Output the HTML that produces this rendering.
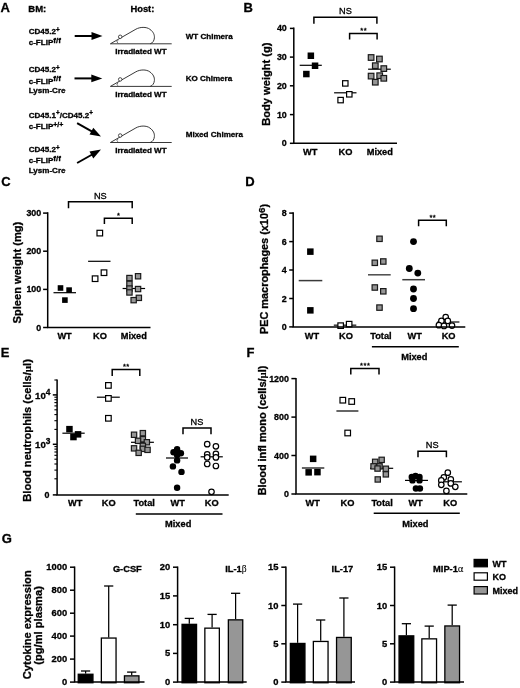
<!DOCTYPE html>
<html lang="en">
<head>
<meta charset="utf-8">
<title>Figure</title>
<style>
html,body{margin:0;padding:0;background:#fff;}
body{width:520px;height:688px;overflow:hidden;}
svg{display:block;font-family:'Liberation Sans', sans-serif;fill:#000;}
svg text{stroke:#000;stroke-width:0.3px;}
</style>
</head>
<body>
<svg width="520" height="688" viewBox="0 0 520 688">
<rect x="0" y="0" width="520" height="688" fill="#fff"/>
<text x="0.5" y="12.3" font-size="13" text-anchor="start" font-weight="bold" >A</text>
<text x="243.5" y="11.9" font-size="13" text-anchor="start" font-weight="bold" >B</text>
<text x="1.2" y="186.4" font-size="13" text-anchor="start" font-weight="bold" >C</text>
<text x="245.3" y="186.4" font-size="13" text-anchor="start" font-weight="bold" >D</text>
<text x="0.8" y="356.8" font-size="13" text-anchor="start" font-weight="bold" >E</text>
<text x="246.6" y="357.2" font-size="13" text-anchor="start" font-weight="bold" >F</text>
<text x="1.8" y="543.3" font-size="13" text-anchor="start" font-weight="bold" >G</text>
<text x="28.3" y="12.1" font-size="9.5" text-anchor="start" font-weight="bold" >BM:</text>
<text x="130.4" y="12.0" font-size="9.4" text-anchor="start" font-weight="bold" >Host:</text>
<text x="28.7" y="34.0" font-size="8.05" text-anchor="start" font-weight="bold" >CD45.2<tspan dy="-2.1" font-size="6.3">+</tspan></text>
<text x="28.7" y="45.0" font-size="8.05" text-anchor="start" font-weight="bold" >c-FLIP<tspan dy="-2.1" font-size="8.05">f/f</tspan></text>
<text x="28.7" y="72.3" font-size="8.05" text-anchor="start" font-weight="bold" >CD45.2<tspan dy="-2.1" font-size="6.3">+</tspan></text>
<text x="28.7" y="83.5" font-size="8.05" text-anchor="start" font-weight="bold" >c-FLIP<tspan dy="-2.1" font-size="8.05">f/f</tspan></text>
<text x="28.7" y="93.4" font-size="8.05" text-anchor="start" font-weight="bold" >Lysm-Cre</text>
<text x="28.7" y="117.5" font-size="8.05" text-anchor="start" font-weight="bold" >CD45.1<tspan dy="-2.1" font-size="6.3">+</tspan><tspan dy="2.1" font-size="8.05">/CD45.2</tspan><tspan dy="-2.1" font-size="6.3">+</tspan></text>
<text x="28.7" y="128.9" font-size="8.05" text-anchor="start" font-weight="bold" >c-FLIP<tspan dy="-2.1" font-size="7">+/+</tspan></text>
<text x="28.7" y="151.7" font-size="8.05" text-anchor="start" font-weight="bold" >CD45.2<tspan dy="-2.1" font-size="6.3">+</tspan></text>
<text x="28.7" y="163.0" font-size="8.05" text-anchor="start" font-weight="bold" >c-FLIP<tspan dy="-2.1" font-size="8.05">f/f</tspan></text>
<text x="28.7" y="172.8" font-size="8.05" text-anchor="start" font-weight="bold" >Lysm-Cre</text>
<line x1="74.7" y1="36.0" x2="93.5" y2="36.0" stroke="#000" stroke-width="2"/>
<polygon points="102.5,36.0 91.5,39.9 91.5,32.1" fill="#000"/>
<line x1="74.5" y1="78.4" x2="93.3" y2="78.4" stroke="#000" stroke-width="2"/>
<polygon points="102.3,78.4 91.3,82.3 91.3,74.5" fill="#000"/>
<line x1="77.1" y1="123.2" x2="93.1" y2="132.1" stroke="#000" stroke-width="2"/>
<polygon points="101.0,136.5 89.5,134.6 93.3,127.7" fill="#000"/>
<line x1="77.1" y1="163.0" x2="93.1" y2="154.0" stroke="#000" stroke-width="2"/>
<polygon points="101.0,149.6 93.3,158.4 89.5,151.6" fill="#000"/>
<line x1="110.4" y1="43.8" x2="171.7" y2="43.8" stroke="#222" stroke-width="0.9"/>
<path d="M110.4,43.8 L135.9,29.2 C139.9,26.9 146.4,26.6 149.9,29.3 C153.4,31.8 154.6,34.8 154.4,37.8 C154.2,40.8 152.6,43.0 150.2,43.8" stroke="#222" stroke-width="0.9" fill="none" />
<circle cx="120.2" cy="36.8" r="1.75" fill="#fff" stroke="#222" stroke-width="0.8"/>
<path d="M118.0,40.2 L116.8,41.9 L118.3,43.3" stroke="#333" stroke-width="0.7" fill="none" />
<line x1="110.4" y1="86.4" x2="171.7" y2="86.4" stroke="#222" stroke-width="0.9"/>
<path d="M110.4,86.4 L135.9,71.8 C139.9,69.5 146.4,69.2 149.9,71.9 C153.4,74.4 154.6,77.4 154.4,80.4 C154.2,83.4 152.6,85.6 150.2,86.4" stroke="#222" stroke-width="0.9" fill="none" />
<circle cx="120.2" cy="79.4" r="1.75" fill="#fff" stroke="#222" stroke-width="0.8"/>
<path d="M118.0,82.8 L116.8,84.5 L118.3,85.9" stroke="#333" stroke-width="0.7" fill="none" />
<line x1="110.4" y1="142.5" x2="171.7" y2="142.5" stroke="#222" stroke-width="0.9"/>
<path d="M110.4,142.5 L135.9,127.9 C139.9,125.6 146.4,125.3 149.9,128.0 C153.4,130.5 154.6,133.5 154.4,136.5 C154.2,139.5 152.6,141.7 150.2,142.5" stroke="#222" stroke-width="0.9" fill="none" />
<circle cx="120.2" cy="135.5" r="1.75" fill="#fff" stroke="#222" stroke-width="0.8"/>
<path d="M118.0,138.9 L116.8,140.6 L118.3,142.0" stroke="#333" stroke-width="0.7" fill="none" />
<text x="140.9" y="54.2" font-size="8.05" text-anchor="middle" font-weight="bold" >Irradiated WT</text>
<text x="140.9" y="96.9" font-size="8.05" text-anchor="middle" font-weight="bold" >Irradiated WT</text>
<text x="140.9" y="152.9" font-size="8.05" text-anchor="middle" font-weight="bold" >Irradiated WT</text>
<text x="185.7" y="38.7" font-size="8.05" text-anchor="start" font-weight="bold" >WT Chimera</text>
<text x="185.7" y="81.4" font-size="8.05" text-anchor="start" font-weight="bold" >KO Chimera</text>
<text x="185.7" y="137.2" font-size="8.05" text-anchor="start" font-weight="bold" >Mixed Chimera</text>
<line x1="289.9" y1="28.4" x2="293.8" y2="28.4" stroke="#000" stroke-width="1.5"/>
<text x="286.8" y="31.4" font-size="8.9" text-anchor="end" font-weight="bold" >40</text>
<line x1="289.9" y1="57.1" x2="293.8" y2="57.1" stroke="#000" stroke-width="1.5"/>
<text x="286.8" y="60.1" font-size="8.9" text-anchor="end" font-weight="bold" >30</text>
<line x1="289.9" y1="85.8" x2="293.8" y2="85.8" stroke="#000" stroke-width="1.5"/>
<text x="286.8" y="88.8" font-size="8.9" text-anchor="end" font-weight="bold" >20</text>
<line x1="289.9" y1="114.6" x2="293.8" y2="114.6" stroke="#000" stroke-width="1.5"/>
<text x="286.8" y="117.6" font-size="8.9" text-anchor="end" font-weight="bold" >10</text>
<line x1="289.9" y1="143.3" x2="293.8" y2="143.3" stroke="#000" stroke-width="1.5"/>
<text x="286.8" y="146.3" font-size="8.9" text-anchor="end" font-weight="bold" >0</text>
<text transform="translate(269.5,84.1) rotate(-90)" font-size="11.1" text-anchor="middle" font-weight="bold">Body weight (g)</text>
<text x="310.3" y="154.9" font-size="9.25" text-anchor="middle" font-weight="bold" >WT</text>
<text x="345.5" y="154.9" font-size="9.25" text-anchor="middle" font-weight="bold" >KO</text>
<text x="379.8" y="154.9" font-size="9.25" text-anchor="middle" font-weight="bold" >Mixed</text>
<path d="M313.9,23.8 V17.3 H376.9 V23.8" stroke="#000" stroke-width="1.5" fill="none" />
<text x="345.4" y="14.3" font-size="9.2" text-anchor="middle" font-weight="normal" stroke-width="0.1">NS</text>
<path d="M349.6,39.6 V33.4 H377.1 V39.6" stroke="#000" stroke-width="1.5" fill="none" />
<text x="363.7" y="33.1" font-size="7.5" text-anchor="middle" font-weight="normal" stroke-width="0.2" letter-spacing="0.5">**</text>
<line x1="299.7" y1="65.3" x2="321.8" y2="65.3" stroke="#000" stroke-width="1.2"/>
<rect x="307.6" y="52.5" width="6.5" height="6.5" fill="#000" stroke="#000" stroke-width="0"/>
<rect x="311.8" y="62.5" width="6.5" height="6.5" fill="#000" stroke="#000" stroke-width="0"/>
<rect x="303.1" y="70.8" width="6.5" height="6.5" fill="#000" stroke="#000" stroke-width="0"/>
<line x1="334.1" y1="92.8" x2="356.5" y2="92.8" stroke="#000" stroke-width="1.2"/>
<rect x="342.6" y="80.7" width="5.3999999999999995" height="5.3999999999999995" fill="#fff" stroke="#000" stroke-width="1.2"/>
<rect x="346.6" y="91.6" width="5.3999999999999995" height="5.3999999999999995" fill="#fff" stroke="#000" stroke-width="1.2"/>
<rect x="337.9" y="97.4" width="5.3999999999999995" height="5.3999999999999995" fill="#fff" stroke="#000" stroke-width="1.2"/>
<line x1="368.1" y1="69.2" x2="390.8" y2="69.2" stroke="#000" stroke-width="1.2"/>
<rect x="368.3" y="54.7" width="5.6" height="5.6" fill="#969696" stroke="#1a1a1a" stroke-width="1.2"/>
<rect x="376.6" y="56.2" width="5.6" height="5.6" fill="#969696" stroke="#1a1a1a" stroke-width="1.2"/>
<rect x="372.5" y="62.9" width="5.6" height="5.6" fill="#969696" stroke="#1a1a1a" stroke-width="1.2"/>
<rect x="381.0" y="65.8" width="5.6" height="5.6" fill="#969696" stroke="#1a1a1a" stroke-width="1.2"/>
<rect x="368.3" y="73.3" width="5.6" height="5.6" fill="#969696" stroke="#1a1a1a" stroke-width="1.2"/>
<rect x="376.9" y="72.9" width="5.6" height="5.6" fill="#969696" stroke="#1a1a1a" stroke-width="1.2"/>
<rect x="381.0" y="75.5" width="5.6" height="5.6" fill="#969696" stroke="#1a1a1a" stroke-width="1.2"/>
<rect x="372.5" y="79.4" width="5.6" height="5.6" fill="#969696" stroke="#1a1a1a" stroke-width="1.2"/>
<line x1="43.1" y1="213.1" x2="47.7" y2="213.1" stroke="#000" stroke-width="1.5"/>
<text x="41.2" y="216.1" font-size="8.9" text-anchor="end" font-weight="bold" >300</text>
<line x1="43.1" y1="251.2" x2="47.7" y2="251.2" stroke="#000" stroke-width="1.5"/>
<text x="41.2" y="254.2" font-size="8.9" text-anchor="end" font-weight="bold" >200</text>
<line x1="43.1" y1="289.4" x2="47.7" y2="289.4" stroke="#000" stroke-width="1.5"/>
<text x="41.2" y="292.4" font-size="8.9" text-anchor="end" font-weight="bold" >100</text>
<line x1="43.1" y1="327.5" x2="47.7" y2="327.5" stroke="#000" stroke-width="1.5"/>
<text x="41.2" y="330.5" font-size="8.9" text-anchor="end" font-weight="bold" >0</text>
<text transform="translate(20.8,272.6) rotate(-90)" font-size="11.1" text-anchor="middle" font-weight="bold">Spleen weight (mg)</text>
<text x="64.6" y="338.7" font-size="9.25" text-anchor="middle" font-weight="bold" >WT</text>
<text x="100.0" y="338.7" font-size="9.25" text-anchor="middle" font-weight="bold" >KO</text>
<text x="133.8" y="338.7" font-size="9.25" text-anchor="middle" font-weight="bold" >Mixed</text>
<path d="M68.5,208.3 V201.8 H132.2 V208.3" stroke="#000" stroke-width="1.5" fill="none" />
<text x="100.3" y="198.5" font-size="9.2" text-anchor="middle" font-weight="normal" stroke-width="0.1">NS</text>
<path d="M104.4,224.1 V218.3 H132.2 V224.1" stroke="#000" stroke-width="1.5" fill="none" />
<text x="118.6" y="218.0" font-size="7.5" text-anchor="middle" font-weight="normal" stroke-width="0.2" letter-spacing="0.5">*</text>
<line x1="53.5" y1="292.7" x2="76.0" y2="292.7" stroke="#000" stroke-width="1.2"/>
<rect x="57.7" y="285.2" width="5.6000000000000005" height="5.6000000000000005" fill="#000" stroke="#000" stroke-width="0"/>
<rect x="66.3" y="287.3" width="5.6000000000000005" height="5.6000000000000005" fill="#000" stroke="#000" stroke-width="0"/>
<rect x="62.1" y="297.3" width="5.6000000000000005" height="5.6000000000000005" fill="#000" stroke="#000" stroke-width="0"/>
<line x1="88.1" y1="261.3" x2="110.5" y2="261.3" stroke="#000" stroke-width="1.2"/>
<rect x="97.0" y="230.3" width="5.6" height="5.6" fill="#fff" stroke="#000" stroke-width="1.2"/>
<rect x="101.2" y="269.9" width="5.6" height="5.6" fill="#fff" stroke="#000" stroke-width="1.2"/>
<rect x="92.3" y="275.9" width="5.6" height="5.6" fill="#fff" stroke="#000" stroke-width="1.2"/>
<line x1="122.6" y1="288.5" x2="145.1" y2="288.5" stroke="#000" stroke-width="1.2"/>
<rect x="126.8" y="275.4" width="5.3" height="5.3" fill="#969696" stroke="#1a1a1a" stroke-width="1.2"/>
<rect x="135.4" y="273.6" width="5.3" height="5.3" fill="#969696" stroke="#1a1a1a" stroke-width="1.2"/>
<rect x="126.8" y="281.2" width="5.3" height="5.3" fill="#969696" stroke="#1a1a1a" stroke-width="1.2"/>
<rect x="126.8" y="285.9" width="5.3" height="5.3" fill="#969696" stroke="#1a1a1a" stroke-width="1.2"/>
<rect x="135.4" y="286.4" width="5.3" height="5.3" fill="#969696" stroke="#1a1a1a" stroke-width="1.2"/>
<rect x="126.8" y="289.8" width="5.3" height="5.3" fill="#969696" stroke="#1a1a1a" stroke-width="1.2"/>
<rect x="136.2" y="295.2" width="5.3" height="5.3" fill="#969696" stroke="#1a1a1a" stroke-width="1.2"/>
<rect x="131.0" y="297.5" width="5.3" height="5.3" fill="#969696" stroke="#1a1a1a" stroke-width="1.2"/>
<line x1="289.2" y1="213.1" x2="293.2" y2="213.1" stroke="#000" stroke-width="1.5"/>
<text x="286.7" y="216.1" font-size="8.9" text-anchor="end" font-weight="bold" >8</text>
<line x1="289.2" y1="241.6" x2="293.2" y2="241.6" stroke="#000" stroke-width="1.5"/>
<text x="286.7" y="244.6" font-size="8.9" text-anchor="end" font-weight="bold" >6</text>
<line x1="289.2" y1="270.0" x2="293.2" y2="270.0" stroke="#000" stroke-width="1.5"/>
<text x="286.7" y="273.0" font-size="8.9" text-anchor="end" font-weight="bold" >4</text>
<line x1="289.2" y1="298.5" x2="293.2" y2="298.5" stroke="#000" stroke-width="1.5"/>
<text x="286.7" y="301.5" font-size="8.9" text-anchor="end" font-weight="bold" >2</text>
<line x1="289.2" y1="326.9" x2="293.2" y2="326.9" stroke="#000" stroke-width="1.5"/>
<text x="286.7" y="329.9" font-size="8.9" text-anchor="end" font-weight="bold" >0</text>
<text transform="translate(268.3,269.0) rotate(-90)" font-size="10.9" text-anchor="middle" font-weight="bold">PEC macrophages (x10<tspan dy="-3.8" font-size="9.8">6</tspan><tspan dy="3.8">)</tspan></text>
<text x="311.9" y="339.1" font-size="9.25" text-anchor="middle" font-weight="bold" >WT</text>
<text x="346.0" y="339.1" font-size="9.25" text-anchor="middle" font-weight="bold" >KO</text>
<text x="380.9" y="339.1" font-size="9.25" text-anchor="middle" font-weight="bold" >Total</text>
<text x="414.7" y="339.1" font-size="9.25" text-anchor="middle" font-weight="bold" >WT</text>
<text x="448.6" y="339.1" font-size="9.25" text-anchor="middle" font-weight="bold" >KO</text>
<line x1="371.9" y1="346.7" x2="458.8" y2="346.7" stroke="#000" stroke-width="1.5"/>
<text x="414.3" y="359.6" font-size="9.25" text-anchor="middle" font-weight="bold" >Mixed</text>
<path d="M418.6,226.2 V220.2 H446.3 V226.2" stroke="#000" stroke-width="1.5" fill="none" />
<text x="432.8" y="219.9" font-size="7.5" text-anchor="middle" font-weight="normal" stroke-width="0.2" letter-spacing="0.5">**</text>
<line x1="298.7" y1="280.6" x2="322.3" y2="280.6" stroke="#3a3a3a" stroke-width="1.5"/>
<rect x="307.1" y="248.4" width="6.5" height="6.5" fill="#000" stroke="#000" stroke-width="0"/>
<rect x="307.1" y="307.1" width="6.5" height="6.5" fill="#000" stroke="#000" stroke-width="0"/>
<line x1="333.8" y1="325.2" x2="356.3" y2="325.2" stroke="#3a3a3a" stroke-width="1.5"/>
<rect x="337.9" y="322.9" width="5.5" height="5.5" fill="#fff" stroke="#000" stroke-width="1.2"/>
<rect x="346.4" y="321.4" width="5.5" height="5.5" fill="#fff" stroke="#000" stroke-width="1.2"/>
<line x1="368.0" y1="274.8" x2="390.7" y2="274.8" stroke="#4a4a4a" stroke-width="1.5"/>
<rect x="376.8" y="236.1" width="5.3999999999999995" height="5.3999999999999995" fill="#969696" stroke="#1a1a1a" stroke-width="1.2"/>
<rect x="372.1" y="260.1" width="5.3999999999999995" height="5.3999999999999995" fill="#969696" stroke="#1a1a1a" stroke-width="1.2"/>
<rect x="380.6" y="258.8" width="5.3999999999999995" height="5.3999999999999995" fill="#969696" stroke="#1a1a1a" stroke-width="1.2"/>
<rect x="372.1" y="284.8" width="5.3999999999999995" height="5.3999999999999995" fill="#969696" stroke="#1a1a1a" stroke-width="1.2"/>
<rect x="380.6" y="288.6" width="5.3999999999999995" height="5.3999999999999995" fill="#969696" stroke="#1a1a1a" stroke-width="1.2"/>
<rect x="376.8" y="304.9" width="5.3999999999999995" height="5.3999999999999995" fill="#969696" stroke="#1a1a1a" stroke-width="1.2"/>
<line x1="402.3" y1="279.7" x2="425.0" y2="279.7" stroke="#3a3a3a" stroke-width="1.5"/>
<circle cx="413.5" cy="241.6" r="3.42" fill="#000" stroke="#000" stroke-width="0"/>
<circle cx="409.3" cy="268.5" r="3.42" fill="#000" stroke="#000" stroke-width="0"/>
<circle cx="417.8" cy="273.1" r="3.42" fill="#000" stroke="#000" stroke-width="0"/>
<circle cx="413.5" cy="289.0" r="3.42" fill="#000" stroke="#000" stroke-width="0"/>
<circle cx="413.5" cy="298.5" r="3.42" fill="#000" stroke="#000" stroke-width="0"/>
<circle cx="413.5" cy="308.7" r="3.42" fill="#000" stroke="#000" stroke-width="0"/>
<line x1="437.2" y1="322.0" x2="459.4" y2="322.0" stroke="#3a3a3a" stroke-width="1.5"/>
<circle cx="445.7" cy="317.1" r="2.75" fill="#fff" stroke="#000" stroke-width="1.2"/>
<circle cx="441.4" cy="320.9" r="2.75" fill="#fff" stroke="#000" stroke-width="1.2"/>
<circle cx="447.8" cy="320.9" r="2.75" fill="#fff" stroke="#000" stroke-width="1.2"/>
<circle cx="438.9" cy="325.2" r="2.75" fill="#fff" stroke="#000" stroke-width="1.2"/>
<circle cx="444.0" cy="326.0" r="2.75" fill="#fff" stroke="#000" stroke-width="1.2"/>
<circle cx="452.0" cy="325.6" r="2.75" fill="#fff" stroke="#000" stroke-width="1.2"/>
<line x1="52.8" y1="394.9" x2="57.1" y2="394.9" stroke="#000" stroke-width="1.5"/>
<line x1="52.8" y1="444.3" x2="57.1" y2="444.3" stroke="#000" stroke-width="1.5"/>
<line x1="52.8" y1="494.9" x2="57.1" y2="494.9" stroke="#000" stroke-width="1.5"/>
<text x="49.4" y="497.9" font-size="8.9" text-anchor="end" font-weight="bold" >0</text>
<line x1="54.4" y1="429.4" x2="57.1" y2="429.4" stroke="#000" stroke-width="1.1"/>
<line x1="54.4" y1="478.8" x2="57.1" y2="478.8" stroke="#000" stroke-width="1.1"/>
<line x1="54.4" y1="420.7" x2="57.1" y2="420.7" stroke="#000" stroke-width="1.1"/>
<line x1="54.4" y1="470.1" x2="57.1" y2="470.1" stroke="#000" stroke-width="1.1"/>
<line x1="54.4" y1="414.6" x2="57.1" y2="414.6" stroke="#000" stroke-width="1.1"/>
<line x1="54.4" y1="464.0" x2="57.1" y2="464.0" stroke="#000" stroke-width="1.1"/>
<line x1="54.4" y1="409.8" x2="57.1" y2="409.8" stroke="#000" stroke-width="1.1"/>
<line x1="54.4" y1="459.2" x2="57.1" y2="459.2" stroke="#000" stroke-width="1.1"/>
<line x1="54.4" y1="405.9" x2="57.1" y2="405.9" stroke="#000" stroke-width="1.1"/>
<line x1="54.4" y1="455.3" x2="57.1" y2="455.3" stroke="#000" stroke-width="1.1"/>
<line x1="54.4" y1="402.6" x2="57.1" y2="402.6" stroke="#000" stroke-width="1.1"/>
<line x1="54.4" y1="452.0" x2="57.1" y2="452.0" stroke="#000" stroke-width="1.1"/>
<line x1="54.4" y1="399.7" x2="57.1" y2="399.7" stroke="#000" stroke-width="1.1"/>
<line x1="54.4" y1="449.1" x2="57.1" y2="449.1" stroke="#000" stroke-width="1.1"/>
<line x1="54.4" y1="397.2" x2="57.1" y2="397.2" stroke="#000" stroke-width="1.1"/>
<line x1="54.4" y1="446.6" x2="57.1" y2="446.6" stroke="#000" stroke-width="1.1"/>
<line x1="54.4" y1="380.0" x2="57.1" y2="380.0" stroke="#000" stroke-width="1.1"/>
<text x="50.4" y="398.9" font-size="9.6" text-anchor="end" font-weight="bold" >10<tspan dy="-4.2" font-size="8.4">4</tspan></text>
<text x="50.4" y="448.3" font-size="9.6" text-anchor="end" font-weight="bold" >10<tspan dy="-4.2" font-size="8.4">3</tspan></text>
<text transform="translate(30.8,430.4) rotate(-90)" font-size="11.1" text-anchor="middle" font-weight="bold">Blood neutrophils (cells/<tspan font-family="'Liberation Serif', serif" font-weight="bold" stroke-width="0.1">μ</tspan>l)</text>
<text x="75.3" y="506.2" font-size="9.25" text-anchor="middle" font-weight="bold" >WT</text>
<text x="108.8" y="506.2" font-size="9.25" text-anchor="middle" font-weight="bold" >KO</text>
<text x="144.2" y="506.2" font-size="9.25" text-anchor="middle" font-weight="bold" >Total</text>
<text x="177.8" y="506.2" font-size="9.25" text-anchor="middle" font-weight="bold" >WT</text>
<text x="211.7" y="506.2" font-size="9.25" text-anchor="middle" font-weight="bold" >KO</text>
<line x1="135.8" y1="513.9" x2="222.5" y2="513.9" stroke="#000" stroke-width="1.5"/>
<text x="178.2" y="527.2" font-size="9.25" text-anchor="middle" font-weight="bold" >Mixed</text>
<path d="M112.2,376.0 V369.6 H139.8 V376.0" stroke="#000" stroke-width="1.5" fill="none" />
<text x="126.3" y="369.3" font-size="7.5" text-anchor="middle" font-weight="normal" stroke-width="0.2" letter-spacing="0.5">**</text>
<path d="M183.0,434.3 V428.1 H211.0 V434.3" stroke="#000" stroke-width="1.5" fill="none" />
<text x="197.0" y="424.5" font-size="9.2" text-anchor="middle" font-weight="normal" stroke-width="0.1">NS</text>
<line x1="62.4" y1="433.2" x2="84.7" y2="433.2" stroke="#000" stroke-width="1.2"/>
<rect x="66.2" y="425.9" width="6.5" height="6.5" fill="#000" stroke="#000" stroke-width="0"/>
<rect x="74.8" y="431.1" width="6.5" height="6.5" fill="#000" stroke="#000" stroke-width="0"/>
<rect x="70.2" y="433.8" width="6.5" height="6.5" fill="#000" stroke="#000" stroke-width="0"/>
<line x1="96.9" y1="397.2" x2="119.8" y2="397.2" stroke="#000" stroke-width="1.2"/>
<rect x="105.6" y="382.6" width="5.6" height="5.6" fill="#fff" stroke="#000" stroke-width="1.2"/>
<rect x="105.6" y="395.6" width="5.6" height="5.6" fill="#fff" stroke="#000" stroke-width="1.2"/>
<rect x="105.6" y="415.5" width="5.6" height="5.6" fill="#fff" stroke="#000" stroke-width="1.2"/>
<line x1="131.0" y1="442.3" x2="153.9" y2="442.3" stroke="#000" stroke-width="1.2"/>
<rect x="131.4" y="432.1" width="5.3" height="5.3" fill="#969696" stroke="#1a1a1a" stroke-width="1.2"/>
<rect x="140.2" y="430.5" width="5.3" height="5.3" fill="#969696" stroke="#1a1a1a" stroke-width="1.2"/>
<rect x="140.2" y="436.6" width="5.3" height="5.3" fill="#969696" stroke="#1a1a1a" stroke-width="1.2"/>
<rect x="135.4" y="438.2" width="5.3" height="5.3" fill="#969696" stroke="#1a1a1a" stroke-width="1.2"/>
<rect x="144.2" y="439.6" width="5.3" height="5.3" fill="#969696" stroke="#1a1a1a" stroke-width="1.2"/>
<rect x="140.2" y="443.2" width="5.3" height="5.3" fill="#969696" stroke="#1a1a1a" stroke-width="1.2"/>
<rect x="131.4" y="445.7" width="5.3" height="5.3" fill="#969696" stroke="#1a1a1a" stroke-width="1.2"/>
<rect x="140.2" y="446.2" width="5.3" height="5.3" fill="#969696" stroke="#1a1a1a" stroke-width="1.2"/>
<rect x="144.9" y="447.2" width="5.3" height="5.3" fill="#969696" stroke="#1a1a1a" stroke-width="1.2"/>
<rect x="136.0" y="450.2" width="5.3" height="5.3" fill="#969696" stroke="#1a1a1a" stroke-width="1.2"/>
<line x1="166.0" y1="458.0" x2="188.0" y2="458.0" stroke="#000" stroke-width="1.2"/>
<circle cx="177.1" cy="449.3" r="3.22" fill="#000" stroke="#000" stroke-width="0"/>
<circle cx="173.5" cy="452.3" r="3.22" fill="#000" stroke="#000" stroke-width="0"/>
<circle cx="180.9" cy="453.3" r="3.22" fill="#000" stroke="#000" stroke-width="0"/>
<circle cx="177.1" cy="455.0" r="3.22" fill="#000" stroke="#000" stroke-width="0"/>
<circle cx="177.1" cy="460.4" r="3.22" fill="#000" stroke="#000" stroke-width="0"/>
<circle cx="172.9" cy="466.4" r="3.22" fill="#000" stroke="#000" stroke-width="0"/>
<circle cx="181.5" cy="471.9" r="3.22" fill="#000" stroke="#000" stroke-width="0"/>
<circle cx="177.1" cy="487.8" r="3.22" fill="#000" stroke="#000" stroke-width="0"/>
<line x1="200.6" y1="456.8" x2="222.8" y2="456.8" stroke="#000" stroke-width="1.2"/>
<circle cx="207.2" cy="444.2" r="2.75" fill="#fff" stroke="#000" stroke-width="1.2"/>
<circle cx="215.9" cy="446.3" r="2.75" fill="#fff" stroke="#000" stroke-width="1.2"/>
<circle cx="207.2" cy="454.3" r="2.75" fill="#fff" stroke="#000" stroke-width="1.2"/>
<circle cx="215.9" cy="453.9" r="2.75" fill="#fff" stroke="#000" stroke-width="1.2"/>
<circle cx="207.2" cy="457.4" r="2.75" fill="#fff" stroke="#000" stroke-width="1.2"/>
<circle cx="215.9" cy="457.4" r="2.75" fill="#fff" stroke="#000" stroke-width="1.2"/>
<circle cx="207.2" cy="464.0" r="2.75" fill="#fff" stroke="#000" stroke-width="1.2"/>
<circle cx="215.9" cy="466.0" r="2.75" fill="#fff" stroke="#000" stroke-width="1.2"/>
<circle cx="211.5" cy="491.8" r="2.75" fill="#fff" stroke="#000" stroke-width="1.2"/>
<line x1="291.4" y1="378.6" x2="296.0" y2="378.6" stroke="#000" stroke-width="1.5"/>
<text x="288.9" y="381.6" font-size="8.9" text-anchor="end" font-weight="bold" >1200</text>
<line x1="291.4" y1="417.1" x2="296.0" y2="417.1" stroke="#000" stroke-width="1.5"/>
<text x="288.9" y="420.1" font-size="8.9" text-anchor="end" font-weight="bold" >800</text>
<line x1="291.4" y1="455.5" x2="296.0" y2="455.5" stroke="#000" stroke-width="1.5"/>
<text x="288.9" y="458.5" font-size="8.9" text-anchor="end" font-weight="bold" >400</text>
<line x1="291.4" y1="494.0" x2="296.0" y2="494.0" stroke="#000" stroke-width="1.5"/>
<text x="288.9" y="497.0" font-size="8.9" text-anchor="end" font-weight="bold" >0</text>
<text transform="translate(266.3,430.5) rotate(-90)" font-size="10.9" text-anchor="middle" font-weight="bold">Blood infl mono (cells/<tspan font-family="'Liberation Serif', serif" font-weight="bold" stroke-width="0.1">μ</tspan>l)</text>
<text x="312.7" y="506.1" font-size="9.25" text-anchor="middle" font-weight="bold" >WT</text>
<text x="347.4" y="506.1" font-size="9.25" text-anchor="middle" font-weight="bold" >KO</text>
<text x="382.1" y="506.1" font-size="9.25" text-anchor="middle" font-weight="bold" >Total</text>
<text x="415.6" y="506.1" font-size="9.25" text-anchor="middle" font-weight="bold" >WT</text>
<text x="450.2" y="506.1" font-size="9.25" text-anchor="middle" font-weight="bold" >KO</text>
<line x1="373.7" y1="513.3" x2="459.8" y2="513.3" stroke="#000" stroke-width="1.5"/>
<text x="415.4" y="526.9" font-size="9.25" text-anchor="middle" font-weight="bold" >Mixed</text>
<path d="M350.8,374.6 V368.5 H379.0 V374.6" stroke="#000" stroke-width="1.5" fill="none" />
<text x="365.2" y="368.2" font-size="7.5" text-anchor="middle" font-weight="normal" stroke-width="0.2" letter-spacing="0.5">***</text>
<path d="M418.0,457.3 V451.2 H446.4 V457.3" stroke="#000" stroke-width="1.5" fill="none" />
<text x="432.2" y="448.4" font-size="9.2" text-anchor="middle" font-weight="normal" stroke-width="0.1">NS</text>
<line x1="301.9" y1="468.0" x2="324.3" y2="468.0" stroke="#000" stroke-width="1.2"/>
<rect x="309.9" y="455.6" width="6.5" height="6.5" fill="#000" stroke="#000" stroke-width="0"/>
<rect x="305.4" y="469.1" width="6.5" height="6.5" fill="#000" stroke="#000" stroke-width="0"/>
<rect x="314.2" y="468.9" width="6.5" height="6.5" fill="#000" stroke="#000" stroke-width="0"/>
<line x1="336.4" y1="411.0" x2="358.4" y2="411.0" stroke="#000" stroke-width="1.2"/>
<rect x="340.0" y="397.4" width="5.6" height="5.6" fill="#fff" stroke="#000" stroke-width="1.2"/>
<rect x="348.9" y="398.7" width="5.6" height="5.6" fill="#fff" stroke="#000" stroke-width="1.2"/>
<rect x="344.9" y="430.2" width="5.6" height="5.6" fill="#fff" stroke="#000" stroke-width="1.2"/>
<line x1="370.0" y1="468.3" x2="393.2" y2="468.3" stroke="#000" stroke-width="1.2"/>
<rect x="372.5" y="459.2" width="5.3" height="5.3" fill="#969696" stroke="#1a1a1a" stroke-width="1.2"/>
<rect x="379.0" y="457.2" width="5.3" height="5.3" fill="#969696" stroke="#1a1a1a" stroke-width="1.2"/>
<rect x="370.9" y="463.7" width="5.3" height="5.3" fill="#969696" stroke="#1a1a1a" stroke-width="1.2"/>
<rect x="376.9" y="463.7" width="5.3" height="5.3" fill="#969696" stroke="#1a1a1a" stroke-width="1.2"/>
<rect x="374.9" y="465.9" width="5.3" height="5.3" fill="#969696" stroke="#1a1a1a" stroke-width="1.2"/>
<rect x="383.2" y="466.1" width="5.3" height="5.3" fill="#969696" stroke="#1a1a1a" stroke-width="1.2"/>
<rect x="383.2" y="471.7" width="5.3" height="5.3" fill="#969696" stroke="#1a1a1a" stroke-width="1.2"/>
<rect x="375.1" y="476.8" width="5.3" height="5.3" fill="#969696" stroke="#1a1a1a" stroke-width="1.2"/>
<line x1="405.0" y1="480.4" x2="428.0" y2="480.4" stroke="#000" stroke-width="1.2"/>
<circle cx="411.8" cy="477.0" r="3.22" fill="#000" stroke="#000" stroke-width="0"/>
<circle cx="415.5" cy="475.9" r="3.22" fill="#000" stroke="#000" stroke-width="0"/>
<circle cx="419.5" cy="477.0" r="3.22" fill="#000" stroke="#000" stroke-width="0"/>
<circle cx="412.5" cy="480.4" r="3.22" fill="#000" stroke="#000" stroke-width="0"/>
<circle cx="419.5" cy="480.4" r="3.22" fill="#000" stroke="#000" stroke-width="0"/>
<circle cx="415.9" cy="488.5" r="3.22" fill="#000" stroke="#000" stroke-width="0"/>
<circle cx="419.9" cy="488.5" r="3.22" fill="#000" stroke="#000" stroke-width="0"/>
<line x1="438.7" y1="481.8" x2="461.9" y2="481.8" stroke="#000" stroke-width="1.2"/>
<circle cx="447.8" cy="472.7" r="2.75" fill="#fff" stroke="#000" stroke-width="1.2"/>
<circle cx="443.8" cy="477.4" r="2.75" fill="#fff" stroke="#000" stroke-width="1.2"/>
<circle cx="441.3" cy="480.4" r="2.75" fill="#fff" stroke="#000" stroke-width="1.2"/>
<circle cx="450.8" cy="479.4" r="2.75" fill="#fff" stroke="#000" stroke-width="1.2"/>
<circle cx="441.3" cy="484.8" r="2.75" fill="#fff" stroke="#000" stroke-width="1.2"/>
<circle cx="450.8" cy="483.4" r="2.75" fill="#fff" stroke="#000" stroke-width="1.2"/>
<circle cx="455.3" cy="486.8" r="2.75" fill="#fff" stroke="#000" stroke-width="1.2"/>
<circle cx="446.4" cy="490.9" r="2.75" fill="#fff" stroke="#000" stroke-width="1.2"/>
<text transform="translate(30.8,624.8) rotate(-90)" font-size="11.15" text-anchor="middle" font-weight="bold">Cytokine expression</text>
<text transform="translate(42.3,625.4) rotate(-90)" font-size="11.15" text-anchor="middle" font-weight="bold">(pg/ml plasma)</text>
<line x1="85.6" y1="673.6" x2="85.6" y2="671.0" stroke="#000" stroke-width="1.25"/>
<line x1="81.0" y1="671.0" x2="90.2" y2="671.0" stroke="#000" stroke-width="1.3"/>
<rect x="78.25" y="674.25" width="14.70" height="8.50" fill="#000" stroke="#000" stroke-width="1.3"/>
<line x1="108.7" y1="637.4" x2="108.7" y2="586.0" stroke="#000" stroke-width="1.25"/>
<line x1="104.1" y1="586.0" x2="113.3" y2="586.0" stroke="#000" stroke-width="1.3"/>
<rect x="101.35" y="638.05" width="14.70" height="44.70" fill="#fff" stroke="#000" stroke-width="1.3"/>
<line x1="131.7" y1="675.2" x2="131.7" y2="672.1" stroke="#000" stroke-width="1.25"/>
<line x1="127.1" y1="672.1" x2="136.3" y2="672.1" stroke="#000" stroke-width="1.3"/>
<rect x="124.45" y="675.85" width="14.50" height="6.90" fill="#969696" stroke="#000" stroke-width="1.3"/>
<line x1="70.0" y1="567.2" x2="74.6" y2="567.2" stroke="#000" stroke-width="1.5"/>
<text x="67.2" y="570.2" font-size="9.4" text-anchor="end" font-weight="bold" >1000</text>
<line x1="70.0" y1="590.2" x2="74.6" y2="590.2" stroke="#000" stroke-width="1.5"/>
<text x="67.2" y="593.2" font-size="9.4" text-anchor="end" font-weight="bold" >800</text>
<line x1="70.0" y1="613.2" x2="74.6" y2="613.2" stroke="#000" stroke-width="1.5"/>
<text x="67.2" y="616.2" font-size="9.4" text-anchor="end" font-weight="bold" >600</text>
<line x1="70.0" y1="636.1" x2="74.6" y2="636.1" stroke="#000" stroke-width="1.5"/>
<text x="67.2" y="639.1" font-size="9.4" text-anchor="end" font-weight="bold" >400</text>
<line x1="70.0" y1="659.1" x2="74.6" y2="659.1" stroke="#000" stroke-width="1.5"/>
<text x="67.2" y="662.1" font-size="9.4" text-anchor="end" font-weight="bold" >200</text>
<line x1="70.0" y1="682.1" x2="74.6" y2="682.1" stroke="#000" stroke-width="1.5"/>
<text x="67.2" y="685.1" font-size="9.4" text-anchor="end" font-weight="bold" >0</text>
<text x="141.8" y="571.9" font-size="9.3" text-anchor="end" font-weight="bold" >G-CSF</text>
<line x1="189.3" y1="623.7" x2="189.3" y2="618.4" stroke="#000" stroke-width="1.25"/>
<line x1="184.7" y1="618.4" x2="193.9" y2="618.4" stroke="#000" stroke-width="1.3"/>
<rect x="182.05" y="624.35" width="14.50" height="58.40" fill="#000" stroke="#000" stroke-width="1.3"/>
<line x1="212.1" y1="627.5" x2="212.1" y2="614.4" stroke="#000" stroke-width="1.25"/>
<line x1="207.5" y1="614.4" x2="216.7" y2="614.4" stroke="#000" stroke-width="1.3"/>
<rect x="204.85" y="628.15" width="14.50" height="54.60" fill="#fff" stroke="#000" stroke-width="1.3"/>
<line x1="235.6" y1="619.2" x2="235.6" y2="593.3" stroke="#000" stroke-width="1.25"/>
<line x1="231.0" y1="593.3" x2="240.2" y2="593.3" stroke="#000" stroke-width="1.3"/>
<rect x="228.35" y="619.85" width="14.40" height="62.90" fill="#969696" stroke="#000" stroke-width="1.3"/>
<line x1="173.0" y1="567.2" x2="177.6" y2="567.2" stroke="#000" stroke-width="1.5"/>
<text x="170.2" y="570.2" font-size="9.4" text-anchor="end" font-weight="bold" >20</text>
<line x1="173.0" y1="595.9" x2="177.6" y2="595.9" stroke="#000" stroke-width="1.5"/>
<text x="170.2" y="598.9" font-size="9.4" text-anchor="end" font-weight="bold" >15</text>
<line x1="173.0" y1="624.7" x2="177.6" y2="624.7" stroke="#000" stroke-width="1.5"/>
<text x="170.2" y="627.7" font-size="9.4" text-anchor="end" font-weight="bold" >10</text>
<line x1="173.0" y1="653.4" x2="177.6" y2="653.4" stroke="#000" stroke-width="1.5"/>
<text x="170.2" y="656.4" font-size="9.4" text-anchor="end" font-weight="bold" >5</text>
<line x1="173.0" y1="682.1" x2="177.6" y2="682.1" stroke="#000" stroke-width="1.5"/>
<text x="170.2" y="685.1" font-size="9.4" text-anchor="end" font-weight="bold" >0</text>
<text x="246.5" y="571.9" font-size="9.3" text-anchor="end" font-weight="bold" >IL-1<tspan font-family="'Liberation Serif', serif" font-weight="normal" font-size="9.5" stroke-width="0.1">β</tspan></text>
<line x1="297.6" y1="642.8" x2="297.6" y2="604.1" stroke="#000" stroke-width="1.25"/>
<line x1="293.0" y1="604.1" x2="302.2" y2="604.1" stroke="#000" stroke-width="1.3"/>
<rect x="290.35" y="643.45" width="14.60" height="39.30" fill="#000" stroke="#000" stroke-width="1.3"/>
<line x1="320.7" y1="640.8" x2="320.7" y2="620.0" stroke="#000" stroke-width="1.25"/>
<line x1="316.1" y1="620.0" x2="325.3" y2="620.0" stroke="#000" stroke-width="1.3"/>
<rect x="313.35" y="641.45" width="14.70" height="41.30" fill="#fff" stroke="#000" stroke-width="1.3"/>
<line x1="343.9" y1="636.8" x2="343.9" y2="598.0" stroke="#000" stroke-width="1.25"/>
<line x1="339.3" y1="598.0" x2="348.5" y2="598.0" stroke="#000" stroke-width="1.3"/>
<rect x="336.55" y="637.45" width="14.70" height="45.30" fill="#969696" stroke="#000" stroke-width="1.3"/>
<line x1="281.3" y1="567.2" x2="285.9" y2="567.2" stroke="#000" stroke-width="1.5"/>
<text x="278.5" y="570.2" font-size="9.4" text-anchor="end" font-weight="bold" >15</text>
<line x1="281.3" y1="605.5" x2="285.9" y2="605.5" stroke="#000" stroke-width="1.5"/>
<text x="278.5" y="608.5" font-size="9.4" text-anchor="end" font-weight="bold" >10</text>
<line x1="281.3" y1="643.8" x2="285.9" y2="643.8" stroke="#000" stroke-width="1.5"/>
<text x="278.5" y="646.8" font-size="9.4" text-anchor="end" font-weight="bold" >5</text>
<line x1="281.3" y1="682.1" x2="285.9" y2="682.1" stroke="#000" stroke-width="1.5"/>
<text x="278.5" y="685.1" font-size="9.4" text-anchor="end" font-weight="bold" >0</text>
<text x="353.3" y="571.9" font-size="9.3" text-anchor="end" font-weight="bold" >IL-17</text>
<line x1="406.4" y1="635.2" x2="406.4" y2="623.7" stroke="#000" stroke-width="1.25"/>
<line x1="401.8" y1="623.7" x2="411.0" y2="623.7" stroke="#000" stroke-width="1.3"/>
<rect x="399.05" y="635.85" width="14.70" height="46.90" fill="#000" stroke="#000" stroke-width="1.3"/>
<line x1="429.2" y1="638.2" x2="429.2" y2="626.1" stroke="#000" stroke-width="1.25"/>
<line x1="424.6" y1="626.1" x2="433.8" y2="626.1" stroke="#000" stroke-width="1.3"/>
<rect x="421.85" y="638.85" width="14.70" height="43.90" fill="#fff" stroke="#000" stroke-width="1.3"/>
<line x1="452.2" y1="625.3" x2="452.2" y2="605.1" stroke="#000" stroke-width="1.25"/>
<line x1="447.6" y1="605.1" x2="456.8" y2="605.1" stroke="#000" stroke-width="1.3"/>
<rect x="444.85" y="625.95" width="14.70" height="56.80" fill="#969696" stroke="#000" stroke-width="1.3"/>
<line x1="390.0" y1="567.2" x2="394.6" y2="567.2" stroke="#000" stroke-width="1.5"/>
<text x="387.2" y="570.2" font-size="9.4" text-anchor="end" font-weight="bold" >15</text>
<line x1="390.0" y1="605.5" x2="394.6" y2="605.5" stroke="#000" stroke-width="1.5"/>
<text x="387.2" y="608.5" font-size="9.4" text-anchor="end" font-weight="bold" >10</text>
<line x1="390.0" y1="643.8" x2="394.6" y2="643.8" stroke="#000" stroke-width="1.5"/>
<text x="387.2" y="646.8" font-size="9.4" text-anchor="end" font-weight="bold" >5</text>
<line x1="390.0" y1="682.1" x2="394.6" y2="682.1" stroke="#000" stroke-width="1.5"/>
<text x="387.2" y="685.1" font-size="9.4" text-anchor="end" font-weight="bold" >0</text>
<text x="463.8" y="571.9" font-size="9.3" text-anchor="end" font-weight="bold" >MIP-1<tspan font-family="'DejaVu Sans', sans-serif" font-weight="normal" font-size="9" stroke-width="0.1">α</tspan></text>
<rect x="474.1" y="559.4" width="13.3" height="7.4" fill="#000" stroke="#000" stroke-width="1.2"/>
<text x="492.5" y="566.7" font-size="9" text-anchor="start" font-weight="bold" >WT</text>
<rect x="474.1" y="572.8" width="13.3" height="7.4" fill="#fff" stroke="#000" stroke-width="1.2"/>
<text x="492.5" y="579.8" font-size="9" text-anchor="start" font-weight="bold" >KO</text>
<rect x="474.1" y="586.6" width="13.3" height="7.4" fill="#969696" stroke="#000" stroke-width="1.2"/>
<text x="492.5" y="593.5" font-size="9" text-anchor="start" font-weight="bold" >Mixed</text>
<path d="M293.8,27.6 V143.3 H397.0" stroke="#000" stroke-width="1.5" fill="none"/>
<path d="M47.7,212.3 V327.5 H150.5" stroke="#000" stroke-width="1.5" fill="none"/>
<path d="M293.2,212.3 V326.9 H465.3" stroke="#000" stroke-width="1.5" fill="none"/>
<path d="M57.1,379.4 V494.9 H228.7" stroke="#000" stroke-width="1.5" fill="none"/>
<path d="M296.0,377.9 V494.0 H467.3" stroke="#000" stroke-width="1.5" fill="none"/>
<path d="M74.6,566.5 V682.1 H144.5" stroke="#000" stroke-width="1.5" fill="none"/>
<path d="M177.6,566.5 V682.1 H246.7" stroke="#000" stroke-width="1.5" fill="none"/>
<path d="M285.9,566.5 V682.1 H355.0" stroke="#000" stroke-width="1.5" fill="none"/>
<path d="M394.6,566.5 V682.1 H464.0" stroke="#000" stroke-width="1.5" fill="none"/>
</svg>
</body>
</html>
